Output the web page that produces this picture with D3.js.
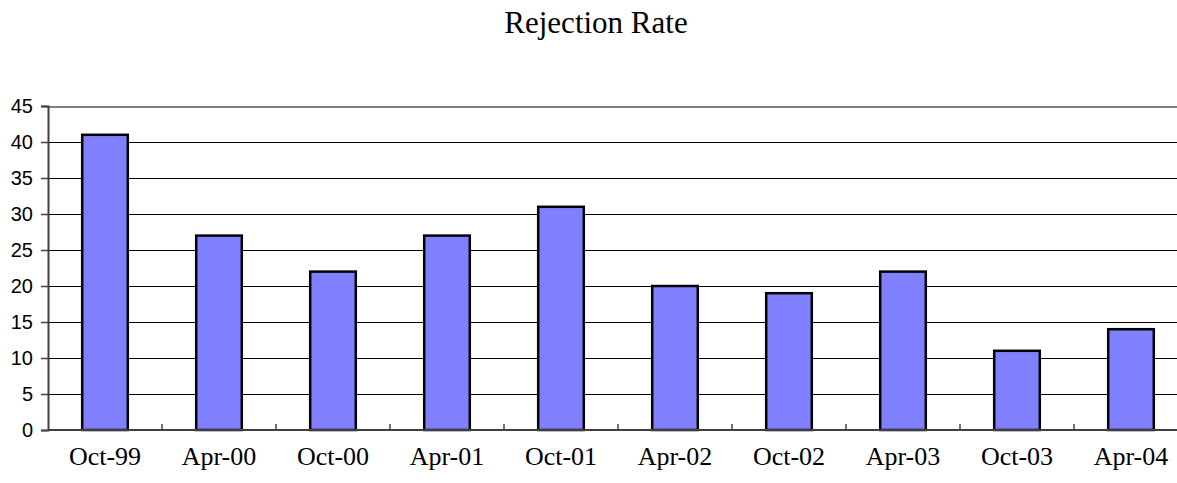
<!DOCTYPE html>
<html>
<head>
<meta charset="utf-8">
<script src="https://cdn.jsdelivr.net/npm/d3@7"></script>
<style>
  body { margin: 0; background: #fff; }
</style>
</head>
<body>
<svg id="chart"></svg>
<script>
const width = 1177;
const height = 483;
const margin = { top: 106, right: -11, bottom: 53, left: 48 };

// Data
const categories = ['Oct-99', 'Apr-00', 'Oct-00', 'Apr-01', 'Oct-01', 'Apr-02', 'Oct-02', 'Apr-03', 'Oct-03', 'Apr-04'];
const rejectionRate = [41, 27, 22, 27, 31, 20, 19, 22, 11, 14];
const yTicks = [0, 5, 10, 15, 20, 25, 30, 35, 40, 45];

const svg = d3.select("#chart")
    .attr("width", width)
    .attr("height", height);

const x = d3.scaleBand()
    .domain(categories)
    .range([margin.left, width - margin.right])
    .paddingInner(0.6)
    .paddingOuter(0.3);

// band boundaries for the category ticks
const step = x.step();
const x0 = margin.left;

const y = d3.scaleLinear()
    .domain([0, 45])
    .range([height - margin.bottom, margin.top]);

// gridlines
svg.append("g")
    .attr("shape-rendering", "crispEdges")
    .selectAll("line")
    .data(yTicks.filter(d => d > 0))
    .join("line")
    .attr("x1", margin.left)
    .attr("x2", width)
    .attr("y1", d => y(d) + 0.5)
    .attr("y2", d => y(d) + 0.5)
    .attr("stroke", d => d === 45 ? "#808080" : "#000")
    .attr("stroke-width", d => d === 45 ? 2 : 1);

// bars
svg.append("g")
    .selectAll("rect")
    .data(rejectionRate)
    .join("rect")
    .attr("x", (d, i) => x(categories[i]))
    .attr("y", d => y(d))
    .attr("width", x.bandwidth())
    .attr("height", d => y(0) - y(d))
    .attr("fill", "#8080ff")
    .attr("stroke", "#000")
    .attr("stroke-width", 2.5);

// y axis
const yAxis = svg.append("g")
    .attr("transform", `translate(${margin.left},0)`)
    .call(d3.axisLeft(y).tickValues(yTicks).tickSize(7).tickPadding(8));
yAxis.select(".domain").attr("stroke", "#404040").attr("stroke-width", 2);
yAxis.selectAll(".tick line").attr("stroke", "#404040").attr("stroke-width", 1.5);
yAxis.selectAll("text")
    .style("font-family", "Arial, 'Liberation Sans', sans-serif")
    .style("font-size", "20px")
    .attr("fill", "#000");

// x axis baseline
svg.append("line")
    .attr("x1", margin.left)
    .attr("x2", width)
    .attr("y1", y(0))
    .attr("y2", y(0))
    .attr("stroke", "#404040")
    .attr("stroke-width", 2);

// category ticks (between categories, pointing up)
svg.append("g")
    .selectAll("line")
    .data(d3.range(1, categories.length))
    .join("line")
    .attr("x1", i => x0 + i * step)
    .attr("x2", i => x0 + i * step)
    .attr("y1", y(0))
    .attr("y2", y(0) - 6)
    .attr("stroke", "#404040")
    .attr("stroke-width", 1.5);

// category labels
svg.append("g")
    .selectAll("text")
    .data(categories)
    .join("text")
    .attr("x", d => x(d) + x.bandwidth() / 2)
    .attr("y", 465)
    .attr("text-anchor", "middle")
    .style("font-family", "'Times New Roman', 'Liberation Serif', serif")
    .style("font-size", "26px")
    .text(d => d);

// title
svg.append("text")
    .attr("x", 596)
    .attr("y", 33)
    .attr("text-anchor", "middle")
    .style("font-family", "'Times New Roman', 'Liberation Serif', serif")
    .style("font-size", "31px")
    .text("Rejection Rate");
</script>
</body>
</html>
